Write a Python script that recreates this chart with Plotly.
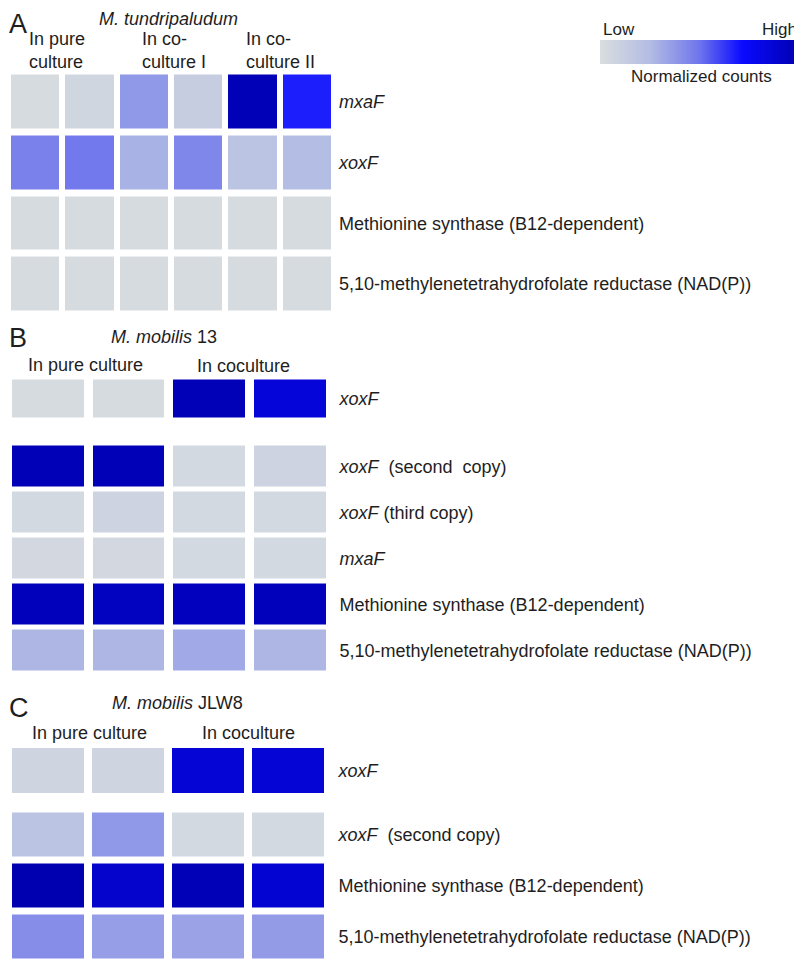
import plotly.graph_objects as go

# the page body keeps an 8px margin, so the figure is drawn 8px in from the top-left
OFF = 8
W, H = 802 - OFF, 962 - OFF
FONT = "Liberation Sans, Arial, sans-serif"
INK = "#1e1e1e"

# ---- data: normalized counts (0 = low, 1 = high) ----
# Panel A, M. tundripaludum
a_cols = ["pure 1", "pure 2", "co-culture I 1", "co-culture I 2", "co-culture II 1", "co-culture II 2"]
a_genes = ["<i>mxaF</i>", "<i>xoxF</i>",
           "Methionine synthase (B12-dependent)",
           "5,10-methylenetetrahydrofolate reductase (NAD(P))"]
a_mxaF = [0.02, 0.06, 0.38, 0.13, 0.97, 0.68]
a_xoxF = [0.46, 0.49, 0.29, 0.44, 0.20, 0.25]
a_metH = [0.02, 0.02, 0.02, 0.02, 0.02, 0.02]
a_mthfr = [0.02, 0.02, 0.02, 0.02, 0.02, 0.02]

# Panel B, M. mobilis 13
b_cols = ["pure 1", "pure 2", "coculture 1", "coculture 2"]
b_top_genes = ["<i>xoxF</i>"]
b_xoxF = [0.02, 0.02, 0.97, 0.85]
b_genes = ["<i>xoxF</i>\u00a0 (second\u00a0 copy)", "<i>xoxF</i> (third copy)", "<i>mxaF</i>",
           "Methionine synthase (B12-dependent)",
           "5,10-methylenetetrahydrofolate reductase (NAD(P))"]
b_xoxF2 = [0.97, 0.97, 0.04, 0.08]
b_xoxF3 = [0.04, 0.08, 0.04, 0.04]
b_mxaF = [0.05, 0.05, 0.04, 0.04]
b_metH = [0.96, 0.94, 0.95, 0.96]
b_mthfr = [0.27, 0.27, 0.32, 0.27]

# Panel C, M. mobilis JLW8
c_cols = ["pure 1", "pure 2", "coculture 1", "coculture 2"]
c_top_genes = ["<i>xoxF</i>"]
c_xoxF = [0.07, 0.07, 0.87, 0.87]
c_genes = ["<i>xoxF</i>\u00a0 (second copy)",
           "Methionine synthase (B12-dependent)",
           "5,10-methylenetetrahydrofolate reductase (NAD(P))"]
c_xoxF2 = [0.20, 0.38, 0.04, 0.04]
c_metH = [1.00, 0.90, 0.97, 0.88]
c_mthfr = [0.42, 0.36, 0.34, 0.37]

colorscale = [[0.0, "#d9dedf"], [0.25, "#b4bde3"], [0.5, "#6f76ec"],
              [0.72, "#0a0aff"], [1.0, "#0000b0"]]


# page pixel -> paper fraction
def px(x):
    return max(0.0, (x - OFF) / W)


def py(y):
    return min(1.0, 1 - (y - OFF) / H)


# blocks: (cols, genes, rows, x pixel domain, y pixel domain, gaps, label standoff)
blocks = [
    (a_cols, a_genes, [a_mxaF, a_xoxF, a_metH, a_mthfr], (8, 334), (71.5, 314.5), (6, 7), 4),
    (b_cols, b_top_genes, [b_xoxF], (4, 330.5), (377.5, 420.5), (9, 5), 8),
    (b_cols, b_genes, [b_xoxF2, b_xoxF3, b_mxaF, b_metH, b_mthfr], (4, 330.5), (443.5, 673.5), (9, 5), 8),
    (c_cols, c_top_genes, [c_xoxF], (4, 327.5), (745, 796), (8, 6), 10),
    (c_cols, c_genes, [c_xoxF2, c_metH, c_mthfr], (4, 327.5), (809.5, 962), (8, 7), 10),
]

fig = go.Figure()
layout = {}
for i, (cols, genes, rows, xd, yd, gaps, standoff) in enumerate(blocks, start=1):
    sfx = "" if i == 1 else str(i)
    fig.add_trace(go.Heatmap(
        z=rows, x=list(range(len(cols))), y=list(range(len(genes))),
        coloraxis="coloraxis", xgap=gaps[0], ygap=gaps[1],
        xaxis="x" + sfx, yaxis="y" + sfx,
        customdata=[[c for c in cols] for _ in genes],
        hovertemplate="%{customdata}<br>%{z}<extra></extra>",
    ))
    layout["xaxis" + sfx] = dict(domain=[px(xd[0]), px(xd[1])], range=[-0.5, len(cols) - 0.5],
                                 visible=False, anchor="y" + sfx)
    layout["yaxis" + sfx] = dict(domain=[py(yd[1]), py(yd[0])], range=[len(genes) - 0.5, -0.5],
                                 anchor="x" + sfx, side="right",
                                 tickvals=list(range(len(genes))), ticktext=genes,
                                 ticks="", showgrid=False, zeroline=False, showline=False,
                                 ticklabelstandoff=standoff,
                                 tickfont=dict(family=FONT, size=18, color=INK))

fig.update_layout(**layout)

ann = []


def text(t, x, y, size=18, xanchor="left", yanchor="middle", align="left"):
    ann.append(dict(text=t, x=px(x), y=py(y), xref="paper", yref="paper",
                    xanchor=xanchor, yanchor=yanchor, align=align, showarrow=False,
                    borderpad=0, font=dict(family=FONT, size=size, color=INK)))


# panel letters and organism titles (top ones pinned to the figure's top edge)
text("A", 6, 0, size=27, yanchor="top")
text("<i>M. tundripaludum</i>", 168, 0, size=18, xanchor="center", yanchor="top")
text("B", 6, 338, size=27)
text("<i>M. mobilis</i> 13", 164, 337, size=18, xanchor="center")
text("C", 6, 708, size=27)
text("<i>M. mobilis</i> JLW8", 177, 703, size=18, xanchor="center")

# condition headers
text("In pure<br>culture", 28, 51)
text("In co-<br>culture I", 141, 51)
text("In co-<br>culture II", 245, 51)
text("In pure culture", 85, 365, xanchor="center")
text("In coculture", 244, 366, xanchor="center")
text("In pure culture", 89, 733, xanchor="center")
text("In coculture", 248, 733, xanchor="center")

# colorbar labels
text("Low", 602, 30, size=17)
text("High", 798, 30, size=17, xanchor="right")
text("Normalized counts", 701, 77, size=17, xanchor="center")

fig.update_layout(
    width=W, height=H,
    margin=dict(l=0, r=0, t=0, b=0),
    paper_bgcolor="white", plot_bgcolor="white",
    showlegend=False,
    annotations=ann,
    coloraxis=dict(
        colorscale=colorscale, cmin=0, cmax=1,
        colorbar=dict(orientation="h", lenmode="pixels", len=198, thickness=24,
                      x=px(699), xanchor="center", y=py(52), yanchor="middle",
                      xpad=0, ypad=0, outlinewidth=0, showticklabels=False, ticks=""),
    ),
)

fig.write_html("out.html")
